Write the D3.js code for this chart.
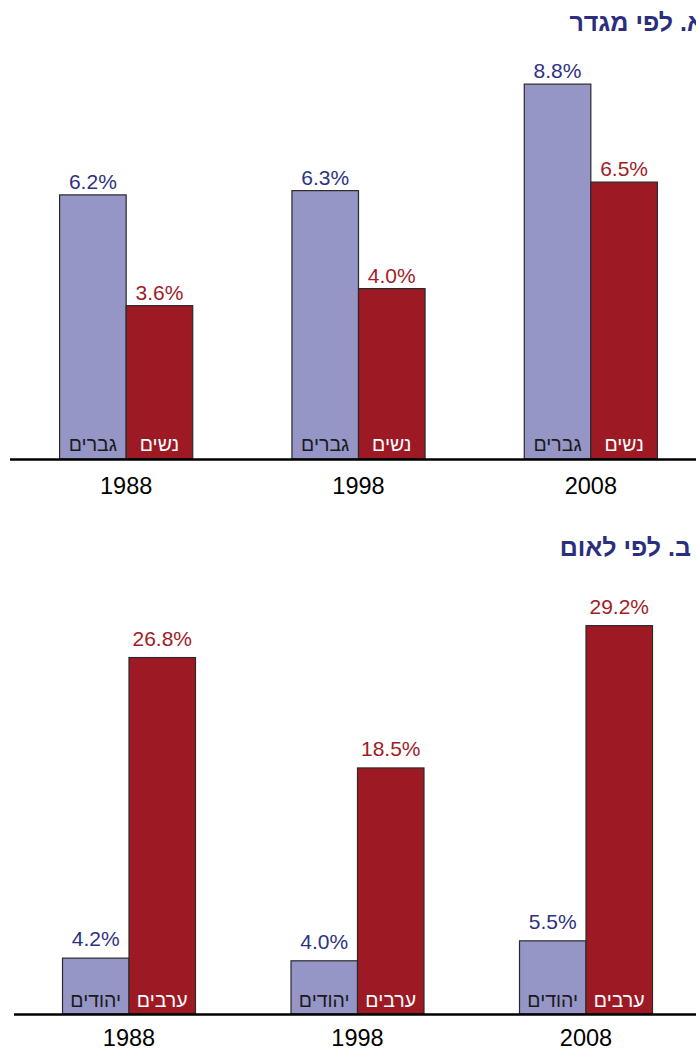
<!DOCTYPE html>
<html>
<head>
<meta charset="utf-8">
<script src="https://cdn.jsdelivr.net/npm/d3@7"></script>
<style>
  body { margin: 0; background: #fff; }
  svg { display: block; font-family: Arial, "Liberation Sans", sans-serif; }
</style>
</head>
<body>
<svg id="chart" width="696" height="1049"></svg>
<script>
const years = ["1988", "1998", "2008"];

// panel A - by gender
const genderTitle = "א. לפי מגדר";
const genderKeys = ["גברים", "נשים"];
const menValues = [6.2, 6.3, 8.8];
const womenValues = [3.6, 4.0, 6.5];

// panel B - by nationality
const nationTitle = "ב. לפי לאום";
const nationKeys = ["יהודים", "ערבים"];
const jewsValues = [4.2, 4.0, 5.5];
const arabsValues = [26.8, 18.5, 29.2];

const fills = ["#9595c6", "#9d1a25"];
const valueColors = ["#2e3283", "#a11c28"];
const innerText = ["#1a1a1a", "#ffffff"];

const svg = d3.select("#chart");

function drawPanel(opts) {
    const g = svg.append("g");
    const x = d3.scaleBand()
        .domain(years)
        .range(opts.xRange)
        .paddingInner(opts.pad)
        .paddingOuter(opts.pad / 2);
    const xi = d3.scaleBand()
        .domain([0, 1])
        .range([0, x.bandwidth()]);
    const y = d3.scaleLinear()
        .domain(opts.yDomain)
        .range([opts.base, opts.top]);

    const rows = [];
    years.forEach((yr, i) => {
        opts.series.forEach((vals, s) => {
            rows.push({ year: yr, s: s, v: vals[i] });
        });
    });

    const bars = g.selectAll("g.bar")
        .data(rows)
        .enter()
        .append("g")
        .attr("class", "bar");

    bars.append("rect")
        .attr("x", d => x(d.year) + xi(d.s))
        .attr("y", d => y(d.v))
        .attr("width", xi.bandwidth())
        .attr("height", d => y(0) - y(d.v))
        .attr("fill", d => fills[d.s])
        .attr("stroke", "#2a2a2a")
        .attr("stroke-width", 1.2);

    bars.append("text")
        .attr("x", d => x(d.year) + xi(d.s) + xi.bandwidth() / 2)
        .attr("y", d => y(d.v) - opts.valueGap)
        .attr("text-anchor", "middle")
        .attr("font-size", 21)
        .attr("fill", d => valueColors[d.s])
        .text(d => d.v.toFixed(1) + "%");

    bars.append("text")
        .attr("x", d => x(d.year) + xi(d.s) + xi.bandwidth() / 2)
        .attr("y", y(0) - opts.keyGap)
        .attr("text-anchor", "middle")
        .attr("font-size", 19.5)
        .attr("fill", d => innerText[d.s])
        .text(d => opts.keys[d.s]);

    // baseline + year labels
    const axis = g.append("g")
        .attr("transform", `translate(0,${opts.base})`)
        .call(d3.axisBottom(x).tickSize(0).tickPadding(opts.yearPad));
    axis.select(".domain").remove();
    g.append("line")
        .attr("x1", opts.lineStart).attr("x2", 696)
        .attr("y1", opts.base + 0.5).attr("y2", opts.base + 0.5)
        .attr("stroke", "#000").attr("stroke-width", 2.5);
    axis.selectAll("text")
        .attr("font-size", 23.5)
        .attr("font-family", "Arial, 'Liberation Sans', sans-serif")
        .attr("fill", "#000");

    g.append("text")
        .attr("x", opts.titleX)
        .attr("y", opts.titleY)
        .attr("text-anchor", "end")
        .attr("font-size", 25)
        .attr("font-weight", "bold")
        .attr("fill", "#2b2e7c")
        .text(opts.title);
}

drawPanel({
    title: genderTitle,
    titleX: 704, titleY: 31,
    keys: genderKeys,
    series: [menValues, womenValues],
    xRange: [10, 707], pad: 0.427,
    yDomain: [0, 10], base: 459, top: 33,
    lineStart: 10, valueGap: 6, keyGap: 8, yearPad: 18
});

drawPanel({
    title: nationTitle,
    titleX: 691, titleY: 556,
    keys: nationKeys,
    series: [jewsValues, arabsValues],
    xRange: [14.75, 700.25], pad: 0.418,
    yDomain: [0, 30], base: 1014, top: 615,
    lineStart: 14, valueGap: 12, keyGap: 7, yearPad: 15
});
</script>
</body>
</html>
